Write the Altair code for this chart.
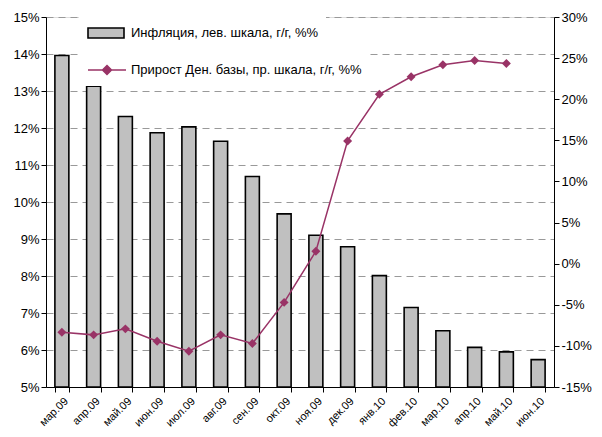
import altair as alt
import pandas as pd

months = ["мар.09", "апр.09", "май.09", "июн.09", "июл.09", "авг.09", "сен.09", "окт.09",
          "ноя.09", "дек.09", "янв.10", "фев.10", "мар.10", "апр.10", "май.10", "июн.10"]
inflation = [13.96, 13.13, 12.31, 11.87, 12.03, 11.64, 10.69, 9.68,
             9.10, 8.79, 8.01, 7.15, 6.52, 6.07, 5.95, 5.74]
base_growth = [-8.33, -8.66, -7.93, -9.43, -10.65, -8.66, -9.71, -4.71,
               1.51, 14.93, 20.60, 22.73, 24.20, 24.72, 24.35, None]
left_ticks = list(range(5, 16))
right_ticks = list(range(-15, 31, 5))
infl_name = "Инфляция, лев. шкала, г/г, %%"
base_name = "Прирост Ден. базы, пр. шкала, г/г, %%"

BAR_FILL = "#C0C0C0"
LINE_COL = "#993366"
FONT = "Liberation Sans"

df = pd.DataFrame({"month": months, "infl": inflation, "base": base_growth})
df["s1"] = infl_name
df["s2"] = base_name
line_df = df.dropna(subset=["base"])

x_enc = alt.X(
    "month:N", sort=months,
    scale=alt.Scale(paddingInner=0.56, paddingOuter=0.28),
    axis=alt.Axis(title=None, labelAngle=-45, tickBand="extent", tickSize=5,
                  labelFontSize=11, labelPadding=3, domainColor="black",
                  tickColor="black", labelColor="black", labelFont=FONT),
)

bars = alt.Chart(df).mark_bar(stroke="black", strokeWidth=1.6).encode(
    x=x_enc,
    y=alt.Y("infl:Q", scale=alt.Scale(domain=[5, 15], nice=False, zero=False, clamp=True),
            axis=alt.Axis(title=None, values=left_ticks, labelExpr="datum.value + '%'",
                          grid=True, gridColor="#999999", gridDash=[7, 5], gridWidth=1,
                          domainColor="black", tickColor="black", tickSize=5,
                          labelFontSize=13, labelColor="black", labelFont=FONT)),
    fill=alt.Fill("s1:N", scale=alt.Scale(range=[BAR_FILL]),
                  legend=alt.Legend(title=None, orient="none", legendX=33, legendY=-3,
                                    symbolType="M-1,-0.5H2.6V0.5H-1Z", symbolSize=400,
                                    symbolStrokeColor="black", symbolStrokeWidth=1.6,
                                    labelOffset=22, labelFontSize=13, labelFont=FONT,
                                    labelColor="black", labelLimit=400,
                                    fillColor="white", padding=8)),
)

y_right = alt.Y("base:Q", scale=alt.Scale(domain=[-15, 30], nice=False, zero=False),
                axis=alt.Axis(title=None, orient="right", values=right_ticks,
                              labelExpr="datum.value + '%'", grid=False,
                              domainColor="black", tickColor="black", tickSize=5,
                              labelFontSize=13, labelColor="black", labelFont=FONT))

line = alt.Chart(line_df).mark_line(color=LINE_COL, strokeWidth=1.5).encode(
    x=x_enc, y=y_right)

points = alt.Chart(line_df).mark_point(shape="diamond", filled=True, size=80, opacity=1).encode(
    x=x_enc, y=y_right,
    color=alt.Color("s2:N", scale=alt.Scale(range=[LINE_COL]),
                    legend=alt.Legend(title=None, orient="none", legendX=33, legendY=34,
                                      symbolType="M-1,0H2.8M0.9,-0.45L1.35,0L0.9,0.45L0.45,0Z",
                                      symbolSize=400, symbolStrokeColor=LINE_COL,
                                      symbolStrokeWidth=1.5, labelOffset=22,
                                      labelFontSize=13, labelFont=FONT, labelColor="black",
                                      labelLimit=400, fillColor="white", padding=8)),
)

right_layer = alt.layer(line, points)

chart = alt.layer(bars, right_layer).resolve_scale(y="independent").properties(
    width=586, height=421,
    autosize=alt.AutoSizeParams(type="fit", contains="padding"),
    padding={"left": 4, "top": 3, "right": 2, "bottom": 0},
).configure_view(stroke=None).configure(font=FONT, background="white")

chart.save("out.html", embed_options={"renderer": "svg", "actions": False})
